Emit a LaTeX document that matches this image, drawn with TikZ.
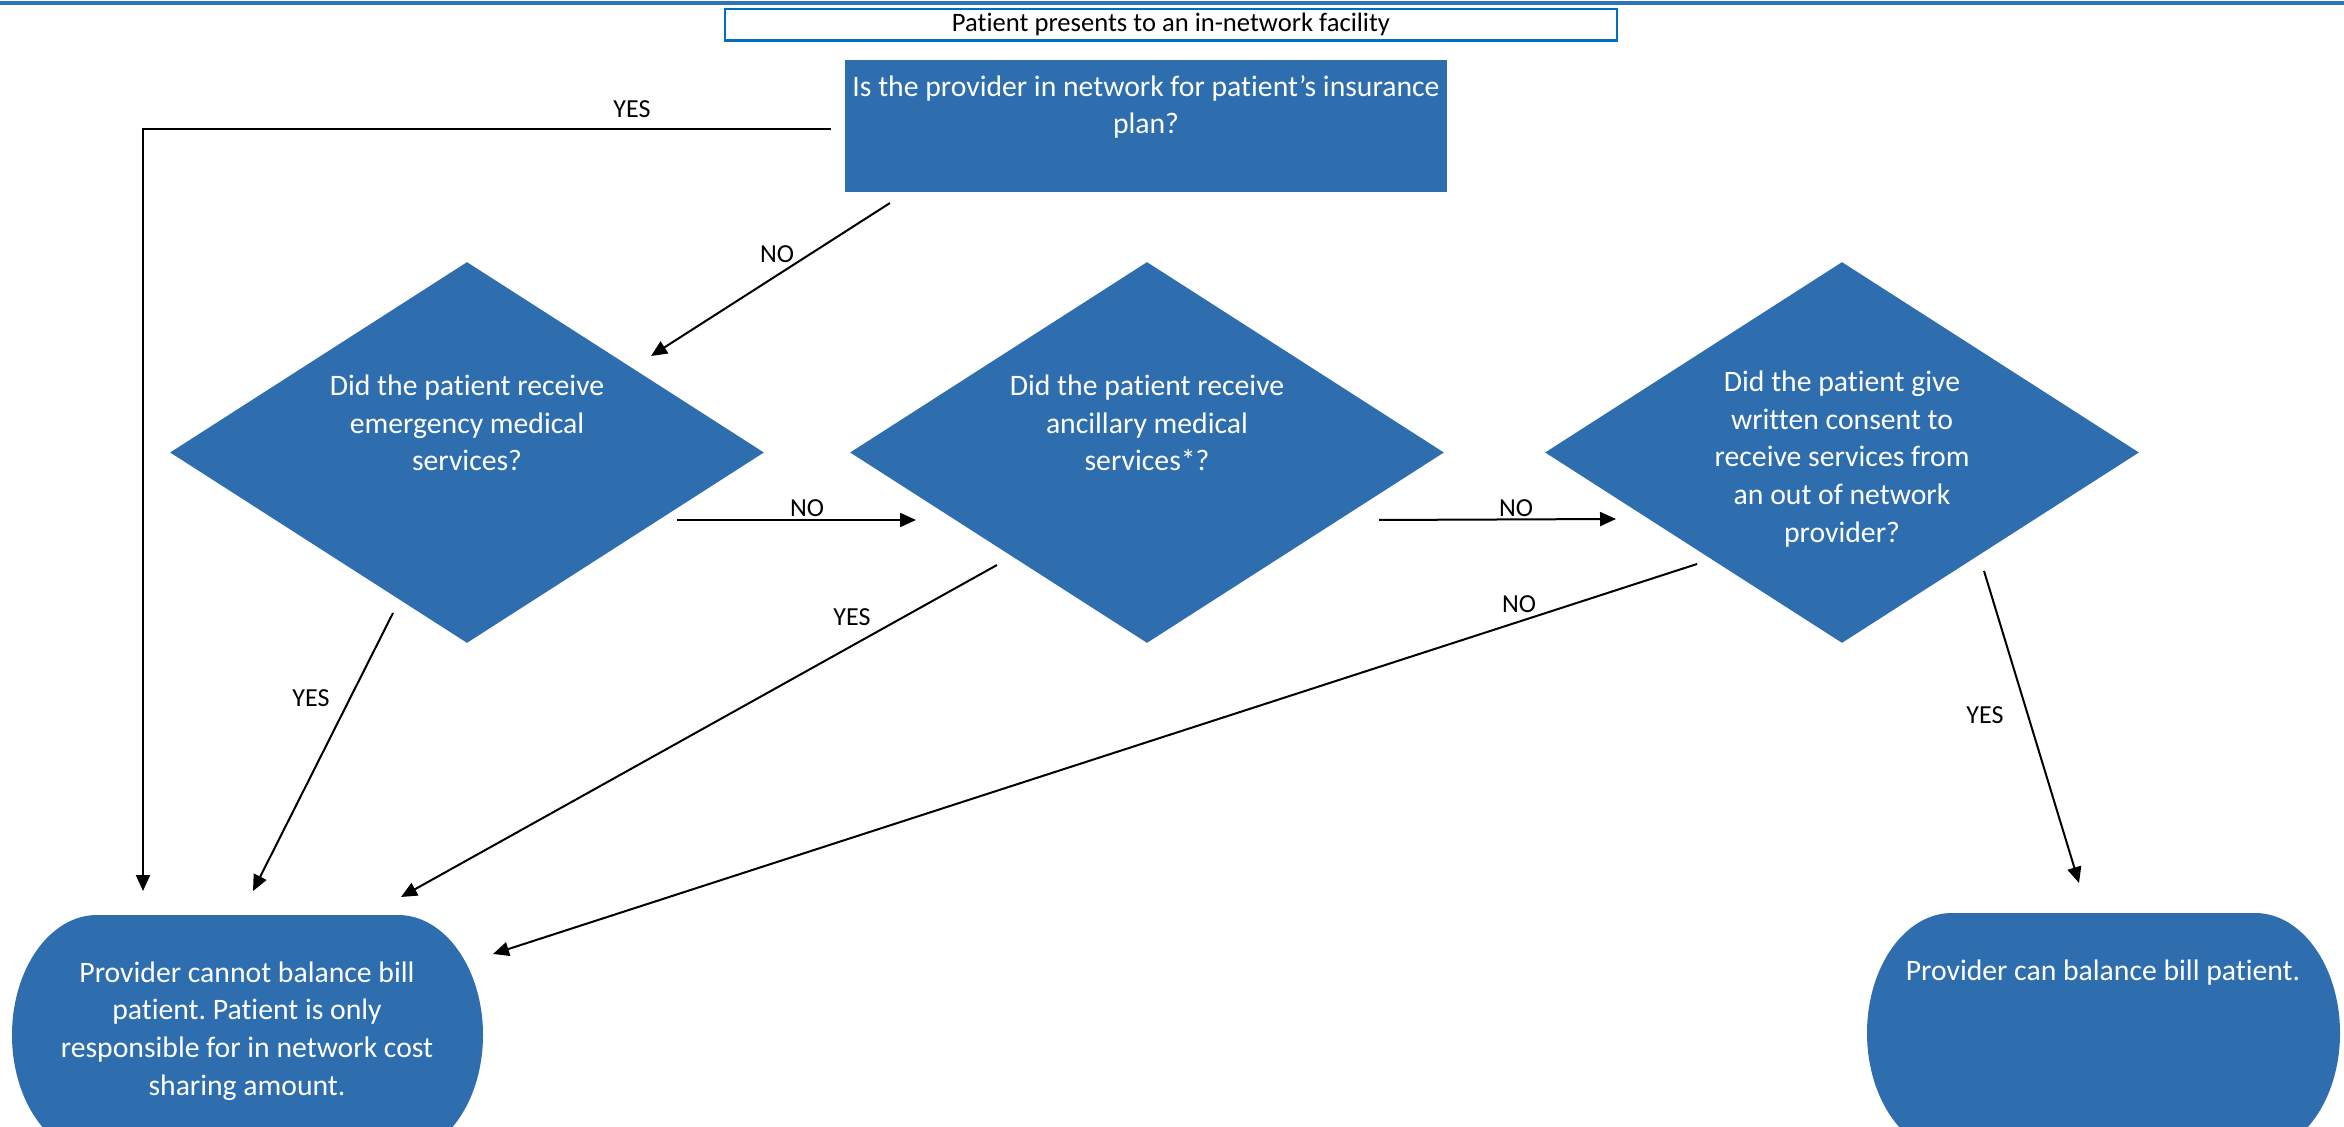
\documentclass[tikz,border=0pt]{standalone}
\usepackage{fontspec}
\setmainfont{Carlito}[Ligatures=NoCommon]
\usetikzlibrary{shapes.geometric,arrows.meta}
\definecolor{fillblue}{RGB}{46,110,174}
\definecolor{lineblue}{RGB}{46,117,182}
\definecolor{boxblue}{RGB}{0,112,192}
\frenchspacing
\begin{document}
\begin{tikzpicture}[x=0.5pt,y=-0.5pt,
  shapetext/.style={text=white, font=\fontsize{14.85}{18.9}\selectfont, align=center, inner sep=0},
  lbl/.style={font=\fontsize{13}{15}\selectfont, inner sep=0},
  conn/.style={line width=1pt, -{Triangle[length=8pt,width=7pt]}},
  dia/.style={diamond, fill=fillblue, minimum width=297pt, minimum height=190.5pt, inner sep=0},
  endshape/.style={fill=fillblue}
]
\useasboundingbox (0,0) rectangle (2344,1127);

% top rule
\draw[lineblue, line width=2pt] (0,3) -- (2344,3);

% title box
\node[draw=boxblue, line width=0.8pt, minimum width=446pt, minimum height=15.5pt, inner sep=0,
      font=\fontsize{13.3}{15}\selectfont] (title) at (1171,24.5) {Patient presents to an in-network facility};
\draw[boxblue, line width=1.5pt] (title.south west) -- (title.south east);

% question box
\node[fill=fillblue, minimum width=301pt, minimum height=66pt, inner sep=0] (q1) at (1146,126) {};
\node[shapetext] (q1t) at (1146,107) {Is the provider in network for patient’s insurance\\plan?};

% diamonds
\node[dia] (d1) at (467,452.5) {};
\node[dia] (d2) at (1147,452.5) {};
\node[dia] (d3) at (1842,452.5) {};
\node[shapetext] (d1t) at (467,423) {Did the patient receive\\emergency medical\\services?};
\node[shapetext] (d2t) at (1147,423) {Did the patient receive\\ancillary medical\\services*?};
\node[shapetext] (d3t) at (1842,459) {Did the patient give\\written consent to\\receive services from\\an out of network\\provider?};

% end shapes
\path[endshape] (12,1035) arc[start angle=180,end angle=90,x radius=42.5pt,y radius=60pt]
  -- (398,915) arc[start angle=90,end angle=0,x radius=42.5pt,y radius=60pt]
  arc[start angle=0,end angle=-90,x radius=42.5pt,y radius=60pt]
  -- (97,1155) arc[start angle=-90,end angle=-180,x radius=42.5pt,y radius=60pt] -- cycle;
\path[endshape] (1867,1033) arc[start angle=180,end angle=90,x radius=42.5pt,y radius=60pt]
  -- (2255,913) arc[start angle=90,end angle=0,x radius=42.5pt,y radius=60pt]
  arc[start angle=0,end angle=-90,x radius=42.5pt,y radius=60pt]
  -- (1952,1153) arc[start angle=-90,end angle=-180,x radius=42.5pt,y radius=60pt] -- cycle;
\node[shapetext] (endno) at (247,1031) {Provider cannot balance bill\\patient. Patient is only\\responsible for in network cost\\sharing amount.};
\node[shapetext] (endyes) at (2103,973) {Provider can balance bill patient.};

% connector points
\coordinate (q1yes) at (831,129);
\coordinate (corner) at (143,129);
\coordinate (endA) at (143,891);
\coordinate (q1no) at (890,203);
\coordinate (d1in) at (651,356);
\coordinate (d1no) at (677,520);
\coordinate (d2in) at (916,520);
\coordinate (d2no) at (1379,520);
\coordinate (d3in) at (1616,519);
\coordinate (d1yes) at (393,613);
\coordinate (endB) at (253,891);
\coordinate (d2yes) at (997,565);
\coordinate (endC) at (401,897);
\coordinate (d3no) at (1697,564);
\coordinate (endD) at (493,954);
\coordinate (d3yes) at (1984,571);
\coordinate (endE) at (2079,883);

% connectors
\draw[conn] (q1yes) -- (corner) -- (endA);
\draw[conn] (q1no) -- (d1in);
\draw[conn] (d1no) -- (d2in);
\draw[conn] (d2no) -- (d3in);
\draw[conn] (d1yes) -- (endB);
\draw[conn] (d2yes) -- (endC);
\draw[conn] (d3no) -- (endD);
\draw[conn] (d3yes) -- (endE);

% labels
\node[lbl] (l1) at (632,109) {YES};
\node[lbl] (l2) at (777,254) {NO};
\node[lbl] (l3) at (807,508) {NO};
\node[lbl] (l4) at (1516,508) {NO};
\node[lbl] (l5) at (311,698) {YES};
\node[lbl] (l6) at (852,617) {YES};
\node[lbl] (l7) at (1519,604) {NO};
\node[lbl] (l8) at (1985,715) {YES};
\end{tikzpicture}
\end{document}
